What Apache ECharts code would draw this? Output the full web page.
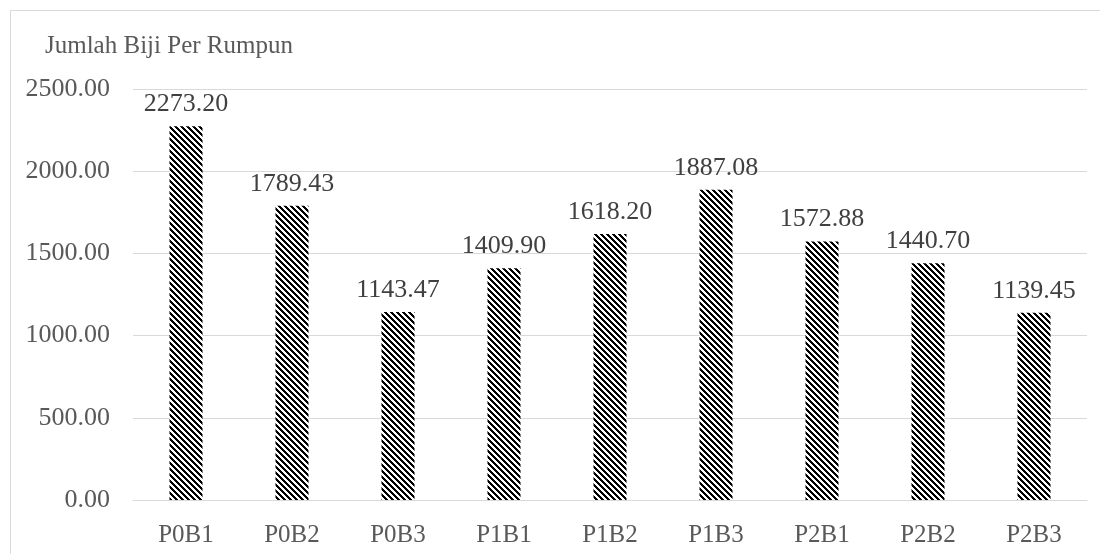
<!DOCTYPE html>
<html>
<head>
<meta charset="utf-8">
<script src="https://cdn.jsdelivr.net/npm/echarts@6/dist/echarts.min.js"></script>
<style>
  html, body { margin: 0; padding: 0; background: #fff; }
  #chart { width: 1100px; height: 554px; }
  #frame { position: absolute; left: 10px; top: 10px; width: 1200px; height: 600px; border: 1px solid #d9d9d9; pointer-events: none; }
</style>
</head>
<body>
<div id="chart"></div>
<div id="frame"></div>
<script>
const categories = ['P0B1', 'P0B2', 'P0B3', 'P1B1', 'P1B2', 'P1B3', 'P2B1', 'P2B2', 'P2B3'];
const seedsPerClump = [2273.20, 1789.43, 1143.47, 1409.90, 1618.20, 1887.08, 1572.88, 1440.70, 1139.45];
const yTicks = [0, 500, 1000, 1500, 2000, 2500];
const axisTitle = 'Jumlah Biji Per Rumpun';

// Diagonal hatch tile for the bars
function hatchTile() {
  const size = 6;
  const c = document.createElement('canvas');
  c.width = size; c.height = size;
  const ctx = c.getContext('2d');
  ctx.fillStyle = '#ffffff';
  ctx.fillRect(0, 0, size, size);
  ctx.fillStyle = '#000000';
  for (let y = 0; y < size; y++) {
    for (let x = 0; x < size; x++) {
      if (((x - y) % size + size) % size < 3) ctx.fillRect(x, y, 1, 1);
    }
  }
  return c;
}

const font = '"Liberation Serif", "Times New Roman", serif';
const chart = echarts.init(document.getElementById('chart'), null, { renderer: 'canvas' });
chart.setOption({
  animation: false,
  title: {
    text: axisTitle,
    left: 45,
    top: 34,
    padding: 0,
    textStyle: { color: '#595959', fontFamily: font, fontSize: 25, fontWeight: 'normal' }
  },
  grid: { left: 133, right: 13, top: 89, bottom: 54 },
  xAxis: {
    type: 'category',
    data: categories,
    axisLine: { show: true, lineStyle: { color: '#d9d9d9', width: 1 } },
    axisTick: { show: false },
    axisLabel: { color: '#595959', fontFamily: font, fontSize: 25, margin: 23 }
  },
  yAxis: {
    type: 'value',
    min: yTicks[0],
    max: yTicks[yTicks.length - 1],
    interval: 500,
    axisLine: { show: false },
    axisTick: { show: false },
    splitLine: { lineStyle: { color: '#d9d9d9', width: 1 } },
    axisLabel: {
      color: '#595959', fontFamily: font, fontSize: 26, margin: 23,
      formatter: v => v.toFixed(2)
    }
  },
  series: [{
    type: 'bar',
    data: seedsPerClump,
    barWidth: 33,
    itemStyle: { color: { image: hatchTile(), repeat: 'repeat' } },
    label: {
      show: true,
      position: 'top',
      distance: 9,
      color: '#404040',
      fontFamily: font,
      fontSize: 26,
      formatter: p => p.value.toFixed(2)
    }
  }]
});
</script>
</body>
</html>
